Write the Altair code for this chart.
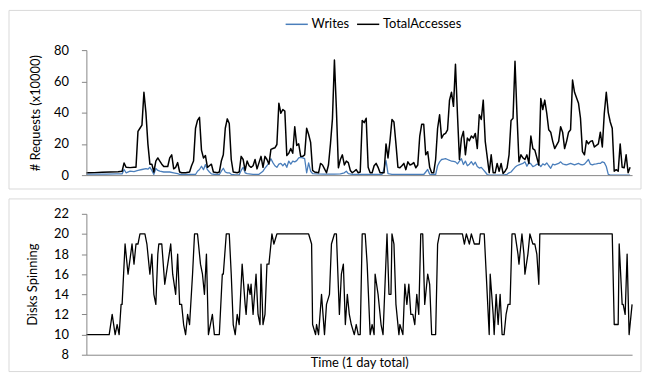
import altair as alt
import pandas as pd

# Sample index along the day (0..275 samples)
total_t = [0, 4, 8, 12, 16, 18, 19, 20, 22, 24, 25, 26, 27, 28, 29, 30, 31, 32, 33, 34, 35, 36, 37, 38, 39, 40,
           41, 42, 43, 44, 45, 46, 47, 48, 50, 52, 53, 54, 55, 56, 57, 58, 59, 60, 61, 62, 63, 64, 66, 67, 68, 69,
           70, 71, 72, 73, 74, 76, 77, 78, 79, 80, 81, 82, 83, 84, 85, 86, 87, 88, 89, 90, 91, 92, 93, 94, 95, 96,
           97, 98, 99, 100, 101, 102, 103, 104, 105, 106, 107, 108, 109, 110, 111, 112, 113, 114, 115, 117, 118,
           119, 120, 121, 122, 123, 124, 125, 126, 127, 128, 129, 130, 131, 132, 133, 134, 135, 136, 137, 138, 139,
           140, 141, 142, 143, 144, 145, 146, 147, 148, 150, 151, 152, 153, 154, 155, 156, 157, 158, 159, 160, 161,
           162, 163, 164, 165, 166, 167, 168, 169, 170, 171, 172, 173, 174, 175, 176, 177, 178, 179, 180, 181, 182,
           183, 184, 185, 186, 187, 188, 189, 190, 191, 192, 193, 194, 195, 196, 197, 198, 199, 200, 201, 203, 204,
           205, 206, 207, 208, 209, 210, 211, 212, 213, 214, 215, 216, 217, 218, 219, 220, 221, 222, 223, 224, 225,
           226, 228, 229, 230, 231, 232, 233, 234, 235, 236, 238, 239, 240, 241, 242, 243, 244, 245, 246, 248, 249,
           250, 251, 252, 253, 254, 255, 256, 258, 259, 260, 261, 262, 263, 264, 265, 266, 267, 268, 269, 270, 271,
           272, 273, 274]
total_v = [1.5, 1.6, 1.8, 2.0, 2.2, 2.5, 7.8, 5, 4.8, 5, 5, 28, 30, 32, 53, 40, 20, 7, 7, 2, 9, 11, 9, 7, 5.5, 5.5,
           5.5, 11, 13, 4, 5, 8, 2, 1.5, 1.5, 2, 6, 9, 30, 35, 37, 16, 11, 12.5, 5, 6, 7, 2, 1.5, 2, 9, 13,
           30, 36, 33, 10, 2, 1.5, 2, 12, 10, 3, 9, 6, 5, 6, 10, 4, 8, 12, 5, 12, 10, 7, 16.5, 17, 17.5, 19.6,
           46, 39.6, 42, 41, 12.5, 14, 17, 14, 31, 19, 20, 12, 12, 13, 30, 26, 21, 3, 2, 1.5, 7.5,
           6.5, 4, 1.5, 6.5, 20, 36, 73.7, 42, 4.7, 10, 13, 6.5, 9, 8, 3, 1.5, 2.5, 3.5, 1.5, 2, 35,
           33.6, 36.4, 5, 1.5, 1.5, 6, 7.5, 5, 1.5, 1.5, 20, 11, 22, 35.6, 34, 20, 5, 4.7, 6, 7.5, 3.5,
           8.5, 6.5, 7, 8, 4.7, 6.5, 25, 32.6, 32.6, 13, 15, 5, 1.5, 1.5, 10, 30, 38.6, 23.7, 26, 26.7, 29,
           48, 53, 44, 71, 39, 10, 23.7, 28, 13, 23.7, 22, 25, 23.7, 26.7, 17, 38.6, 35.6, 48, 21.6, 1.5, 13,
           1.5, 1.5, 7.5, 2.5, 7.5, 1, 2.5, 4.7, 13, 35, 36.4, 72.8, 38.6, 8.5, 13, 11, 10, 13, 7.5, 25, 17,
           16, 6.5, 49, 42, 48, 39.6, 29, 27.5, 21.6, 17, 21.6, 31, 27.5, 17, 21.6, 27.5, 29, 60.8, 53, 46, 36.4,
           15, 13, 22, 20, 21.6, 22, 18, 20, 27.5, 18, 39.6, 53, 40, 34, 30, 2.5, 3.5, 2.5, 20, 5, 4.7,
           13, 1.5, 5]

writes_t = [0, 5, 10, 15, 18, 19, 20, 22, 24, 26, 28, 30, 31, 32, 33, 34, 35, 36, 37, 39, 42, 44, 46, 47, 49, 52,
            55, 56, 57, 58, 59, 60, 61, 62, 63, 65, 67, 68, 69, 70, 71, 72, 73, 75, 77, 78, 79, 80, 81, 84, 87, 89,
            90, 91, 92, 93, 94, 95, 96, 97, 98, 99, 100, 101, 102, 103, 104, 105, 106, 107, 108, 109, 110, 111,
            112, 113, 114, 116, 120, 125, 128, 130, 131, 132, 134, 140, 145, 149, 150, 151, 152, 154, 160, 165,
            170, 172, 173, 175, 176, 177, 178, 179, 180, 181, 182, 183, 184, 185, 186, 187, 188, 189, 190, 191,
            192, 193, 194, 195, 196, 197, 198, 199, 200, 201, 202, 203, 210, 212, 213, 214, 215, 216, 217, 218,
            219, 220, 221, 222, 223, 224, 225, 226, 227, 228, 229, 230, 231, 232, 233, 234, 235, 236, 237, 238,
            239, 240, 241, 242, 243, 244, 245, 246, 247, 248, 249, 250, 251, 252, 253, 254, 255, 256, 257, 258,
            259, 260, 261, 262, 263, 264, 274]
writes_v = [0.6, 0.6, 0.7, 0.8, 0.8, 3.6, 1.5, 2.5, 2.3, 3, 3.6, 4.2, 3.8, 5, 3, 0.5, 4.2, 3, 2.5, 2, 2, 1.5, 1,
            0.5, 0.4, 0.4, 0.4, 2.5, 3.6, 5.7, 3.5, 6.8, 3.5, 2, 0.8, 0.4, 0.4, 2.5, 4.4, 2, 1.5, 1.5, 0.5, 0.2,
            0.2, 3, 5, 1.5, 1, 0.5, 0.5, 2.5, 4.5, 6, 7.8, 10.5, 8, 6, 5, 7, 7.5, 6, 7.5, 5, 9, 7, 9, 8.5, 9.3,
            11, 11.4, 11, 10.5, 1.5, 7.8, 2.5, 1, 0.8, 0.6, 0.6, 0.8, 1.5, 2.5, 1, 0.5, 0.5, 0.5, 0.5, 4, 9.3,
            1, 0.5, 0.5, 0.4, 0.4, 3.6, 0.6, 0.4, 0.4, 6, 8.5, 10, 10.3, 10.5, 10, 9.5, 8.9, 8.8, 8.5, 7.2, 9,
            10.5, 6.8, 9, 6, 7, 8.6, 6.5, 8.3, 5.5, 4.5, 5, 3.5, 2, 0.4, 0, 0, 0.5, 1.5, 2, 3.5, 5, 6, 6.5, 7,
            7.5, 8.5, 5.7, 8, 7.2, 5.5, 6, 7, 6.8, 5.5, 7.2, 6.5, 7.8, 6, 4.4, 7, 6.5, 7, 7.5, 8.5, 7.2, 6.8,
            6.5, 7, 7.5, 7, 6.5, 7, 7.5, 6.8, 6.5, 7, 8.5, 10, 7, 6.5, 7, 7.2, 7.5, 7.5, 8.5, 8, 5.5, 0.5, 0,
            0]

disks_t = [0, 11.5, 13, 14.5, 15.5, 16.5, 17.5, 18, 19.5, 21, 23, 24, 25, 26, 27, 29.5, 30.5, 32, 33, 34, 35, 36,
           36.5, 38, 39.5, 41, 42.5, 43.5, 45, 46, 47, 48, 49, 50, 51, 52, 53.5, 54.5, 56, 57.5, 58.5, 59.5, 60.5,
           61.5, 63.5, 64.5, 67, 68.5, 69, 70.5, 72, 73, 74, 75, 76, 77, 78.5, 80, 80.5, 81.5, 82.5, 83, 84, 85.5,
           86.5, 87.5, 88, 89, 90, 91, 92, 93.5, 94.5, 96, 112, 113.5, 114, 115.5, 116, 117, 118.5, 120, 121,
           122.5, 123.5, 125, 126, 127.5, 128.5, 129.5, 130.5, 131.5, 132.5, 133.5, 135, 136, 137, 138, 139,
           140.5, 141.5, 143, 144, 145, 145.5, 147, 148.5, 149.5, 151.5, 152.5, 153.5, 154, 155, 156, 157.5, 158,
           159.5, 160.5, 161.5, 162.5, 163.5, 164.5, 165.5, 166.5, 167.5, 168.5, 169.5, 170.5, 172, 173, 174, 176,
           177, 178, 189.5, 190.5, 191.5, 193, 194, 195.5, 198, 198.5, 200.5, 203, 203.5, 205, 205.5, 206.5,
           207.5, 208.5, 209.5, 210.5, 211.5, 212.5, 213.5, 214.5, 216, 217.5, 218, 219.5, 220.5, 221, 222.5,
           223.5, 225, 226, 227, 228, 228.5, 265, 266, 268, 268.5, 270, 270.5, 271.5, 272.5, 273.5, 275]
disks_v = [10, 10, 12, 10, 11, 10, 13, 13, 19, 16, 19, 17, 19, 19, 20, 20, 19, 16, 18, 14, 13, 18,
           19, 19, 15, 17, 19, 16, 14, 18, 13, 13, 11, 10, 12, 11, 16, 20, 20, 17, 16, 14, 18,
           10, 12, 10, 10, 16, 16, 20, 20, 16, 11, 10, 12, 11, 17, 13, 12, 15, 14, 15, 12, 16,
           12, 11, 17, 11, 12, 17, 17, 20, 19, 20, 20, 19, 11, 10, 11, 10, 14, 10, 13,
           14, 19, 20, 20, 12, 16, 17, 11, 14, 12, 11, 10, 11, 10, 10, 20,
           20, 17, 10, 11, 10, 16, 14, 11, 10, 20, 14, 14, 20, 19, 13, 10, 11,
           10, 15, 13, 15, 12, 12, 11, 14, 12, 20, 20, 13, 16, 15, 10, 10,
           19, 20, 20, 19, 20, 19, 20, 19, 19, 20, 20, 10, 16, 12, 10, 14,
           11, 14, 10, 10, 12, 13, 13, 20, 20, 18, 17, 20, 18, 16, 18,
           20, 19, 19, 18, 15, 20, 20, 11, 11, 19, 13, 13, 12, 18, 10, 13]

series_names = ["Writes", "TotalAccesses"]
series_colors = ["#4a7ebb", "#000000"]

FONT = "Lato"
TXT = "#000000"
AX = "#868686"

writes_df = pd.DataFrame({"t": writes_t, "value": writes_v, "series": series_names[0]})
total_df = pd.DataFrame({"t": total_t, "value": total_v, "series": series_names[1]})
disks_df = pd.DataFrame({"t": disks_t, "disks": disks_v})

xscale = alt.Scale(domain=[0, 275], nice=False, zero=False)
x_top = alt.X("t:Q", scale=xscale,
              axis=alt.Axis(labels=False, ticks=False, grid=False, title=None, domainColor=AX, zindex=1))
color = alt.Color("series:N", scale=alt.Scale(domain=series_names, range=series_colors),
                  legend=alt.Legend(orient="none", legendX=200, legendY=-38, direction="horizontal",
                                    title=None, symbolType="stroke", symbolSize=500,
                                    symbolStrokeWidth=1.5, labelFontSize=13, labelFont=FONT,
                                    labelColor=TXT, labelOffset=3, columnPadding=4))
y_top = alt.Y("value:Q", scale=alt.Scale(domain=[0, 80], nice=False),
              axis=alt.Axis(values=[0, 20, 40, 60, 80], title="# Requests (x10000)", grid=False,
                            tickSize=5, tickColor=AX, domainColor=AX, labelPadding=13,
                            titlePadding=11, zindex=1))

box_top = alt.Chart(pd.DataFrame({"box": [1]})).mark_rect(
    fillOpacity=0, stroke="#d9d9d9", strokeWidth=1
).encode(x=alt.value(-78), x2=alt.value(559), y=alt.value(-40), y2=alt.value(140))

writes_line = alt.Chart(writes_df).mark_line(strokeWidth=1.3, strokeJoin="round").encode(
    x=x_top, y=y_top, color=color)
total_line = alt.Chart(total_df).mark_line(strokeWidth=1.5, strokeJoin="round").encode(
    x=x_top, y=y_top, color=color)

top = alt.layer(box_top, writes_line, total_line).properties(width=550, height=126)

box_bot = alt.Chart(pd.DataFrame({"box": [1]})).mark_rect(
    fillOpacity=0, stroke="#d9d9d9", strokeWidth=1
).encode(x=alt.value(-78), x2=alt.value(559), y=alt.value(-15), y2=alt.value(159))

disks_line = alt.Chart(disks_df).mark_line(color="#000000", strokeWidth=1.3, strokeJoin="round").encode(
    x=alt.X("t:Q", scale=xscale,
            axis=alt.Axis(labels=False, ticks=False, grid=False, title="Time (1 day total)",
                          domainColor=AX, titlePadding=2, zindex=1)),
    y=alt.Y("disks:Q", scale=alt.Scale(domain=[8, 22], nice=False, zero=False),
            axis=alt.Axis(values=[8, 10, 12, 14, 16, 18, 20, 22], title="Disks Spinning", grid=False,
                          tickSize=5, tickColor=AX, domainColor=AX, labelPadding=13,
                          titlePadding=14, zindex=1)),
)

bottom = alt.layer(box_bot, disks_line).properties(width=550, height=142)

chart = alt.vconcat(top, bottom, spacing=39, bounds="flush").properties(padding=0).configure(
    font=FONT
).configure_axis(
    labelFont=FONT, titleFont=FONT, labelFontSize=13, titleFontSize=13,
    labelColor=TXT, titleColor=TXT, titleFontWeight="normal"
).configure_view(strokeWidth=0)

chart.save("out.html", embed_options={"renderer": "svg", "actions": False})
